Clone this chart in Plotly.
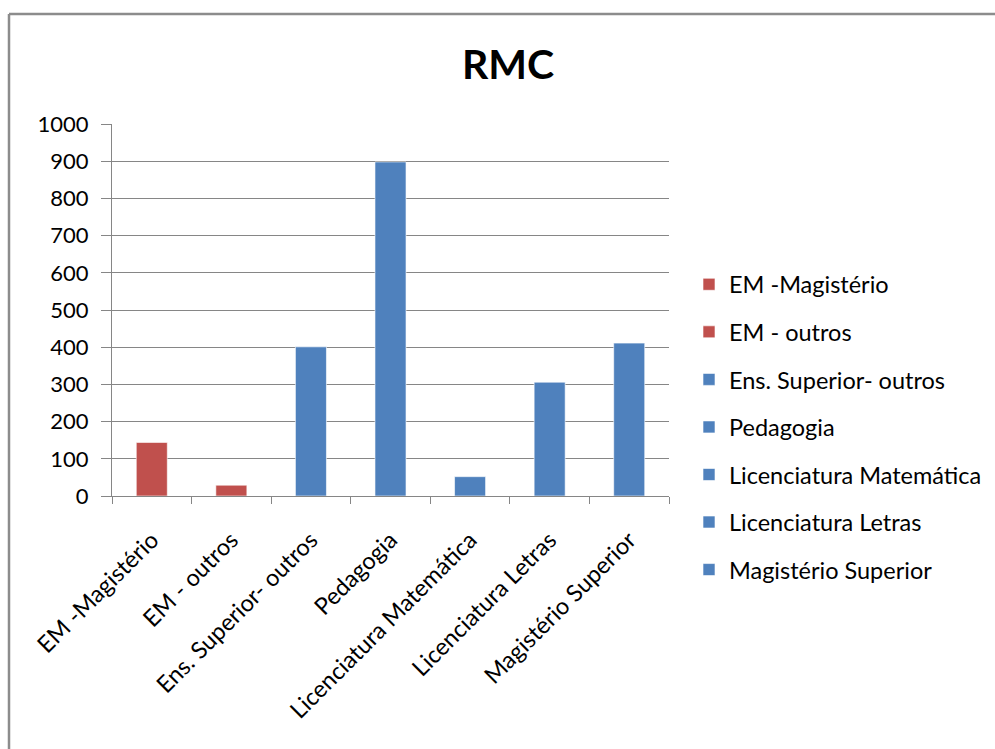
import plotly.graph_objects as go

categories = ["EM -Magistério", "EM - outros", "Ens. Superior- outros", "Pedagogia",
              "Licenciatura Matemática", "Licenciatura Letras", "Magistério Superior"]
values = [144, 29, 401, 898, 52, 306, 411]
series_colors = ["#C0504D", "#C0504D", "#4F81BD", "#4F81BD", "#4F81BD", "#4F81BD", "#4F81BD"]
y_ticks = [0, 100, 200, 300, 400, 500, 600, 700, 800, 900, 1000]

W, H = 995, 749
ML, MR, MT, MB = 112, 326, 124, 253
FONT = "Lato"
FS = 22
FS_TEXT = 23.5
GRAY = "#868686"

fig = go.Figure()
for i, (cat, val, col) in enumerate(zip(categories, values, series_colors)):
    fig.add_trace(go.Bar(
        x=[cat], y=[val], name=cat, width=0.39,
        marker=dict(color=col, line=dict(color="rgba(255,255,255,0.6)", width=1)),
        legendgroup=f"g{i}",
    ))

pw = W - ML - MR
ph = H - MT - MB
def px_to_paper_x(px):
    return (px - ML) / pw
def px_to_paper_y(py):
    return (H - MB - py) / ph

frame_color = "#8C8C8C"
fig.add_shape(type="line", xref="paper", yref="paper",
              x0=px_to_paper_x(9), x1=px_to_paper_x(W + 10),
              y0=px_to_paper_y(14), y1=px_to_paper_y(14),
              line=dict(color=frame_color, width=2.5))
fig.add_shape(type="line", xref="paper", yref="paper",
              x0=px_to_paper_x(9), x1=px_to_paper_x(9),
              y0=px_to_paper_y(14), y1=px_to_paper_y(H + 10),
              line=dict(color=frame_color, width=2.5))

fig.update_layout(
    width=W, height=H,
    margin=dict(l=ML, r=MR, t=MT, b=MB, autoexpand=False),
    paper_bgcolor="white", plot_bgcolor="white",
    barmode="overlay",
    font=dict(family=FONT, size=FS, color="#000000"),
    title=dict(text="<b>RMC</b>", x=508 / W, xanchor="center", y=1 - 65 / H, yanchor="middle",
               font=dict(family=FONT, size=41, color="#000000")),
    showlegend=True,
    legend=dict(x=px_to_paper_x(689), xanchor="left", y=px_to_paper_y(427), yanchor="middle",
                tracegroupgap=14, font=dict(family=FONT, size=FS_TEXT, color="#000000"),
                bgcolor="rgba(0,0,0,0)", itemclick=False, itemdoubleclick=False),
    xaxis=dict(type="category", categoryorder="array", categoryarray=categories,
               tickangle=-45, ticks="outside", ticklen=7, tickcolor=GRAY, tickwidth=1,
               tickson="boundaries", showline=True, linecolor=GRAY, linewidth=1,
               ticklabelstandoff=20,
               showgrid=False, tickfont=dict(family=FONT, size=FS_TEXT, color="#000000")),
    yaxis=dict(range=[0, 1000], tickvals=y_ticks, ticks="outside", ticklen=10,
               tickcolor=GRAY, tickwidth=1, showline=True, linecolor=GRAY, linewidth=1,
               showgrid=True, gridcolor=GRAY, gridwidth=1, zeroline=False,
               ticklabelstandoff=8,
               tickfont=dict(family=FONT, size=FS, color="#000000")),
)

fig.write_html("out.html", config={"displayModeBar": False},
               post_script="document.body.style.margin='0px';")
